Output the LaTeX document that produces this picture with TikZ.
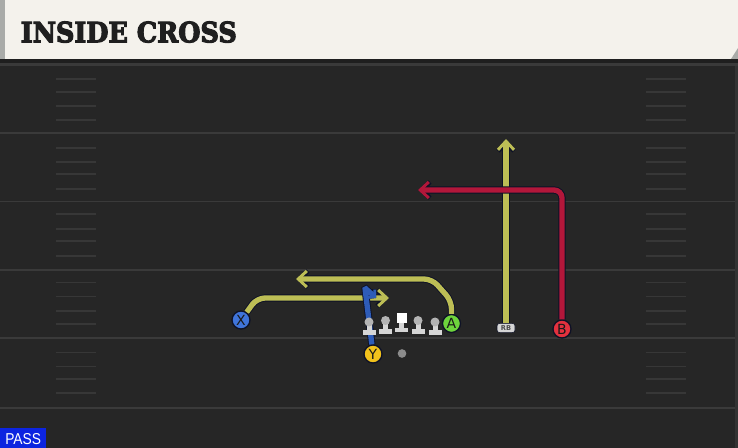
\documentclass[tikz,border=0pt]{standalone}
\usepackage{fontspec}
\setmainfont{DejaVu Sans}
\newfontfamily\titlefont[BoldFeatures={FakeBold=4}]{DejaVu Serif}
\newfontfamily\passfont{Liberation Sans}
\usetikzlibrary{arrows.meta}
\definecolor{fieldbg}{HTML}{262626}
\definecolor{fieldline}{HTML}{3A3A3A}
\definecolor{hashcol}{HTML}{373737}
\definecolor{cream}{HTML}{F4F2EC}
\definecolor{stripgray}{HTML}{A9ABA8}
\definecolor{routey}{HTML}{BDBE55}
\definecolor{router}{HTML}{B3173A}
\definecolor{routeb}{HTML}{2E5CB8}
\definecolor{outl}{HTML}{0E1226}
\definecolor{px}{HTML}{3F74DA}
\definecolor{py}{HTML}{F2C21C}
\definecolor{pa}{HTML}{6ED43C}
\definecolor{pb}{HTML}{E3313E}
\definecolor{passblue}{HTML}{0C24E0}
\definecolor{linemanbody}{HTML}{D6D6D6}
\definecolor{linemanhead}{HTML}{B4B4B4}
\tikzset{
  yardline/.style={draw=fieldline, line width=1.4pt},
  hashmark/.style={draw=hashcol, line width=1.1pt},
  player/.style={circle, draw=outl, line width=1pt, minimum size=13.5pt, inner sep=0pt,
    font=\fontsize{10.5}{10.5}\selectfont, text=black!90},
  rbbox/.style={rectangle, rounded corners=2pt, fill=linemanbody, draw=outl, line width=0.4pt,
    minimum width=13.5pt, minimum height=7pt, inner sep=0pt,
    font=\fontsize{5}{5}\selectfont\bfseries, text=black!70},
  ballnode/.style={circle, fill=black!45, minimum size=6.5pt, inner sep=0pt},
  routeout/.style={draw=outl, line width=5.4pt, rounded corners=6pt,
    -{Straight Barb[length=6.5pt,width=12pt,line width=3.4pt]}},
  routein/.style={line width=4pt, rounded corners=6pt,
    -{Straight Barb[length=6.5pt,width=12pt,line width=2.2pt]}},
}
\newcommand\routepath[2]{\draw[routeout] #2;\draw[routein,draw=#1] #2;}
\begin{document}
\begin{tikzpicture}[x=0.75pt,y=-0.75pt]
\useasboundingbox (0,0) rectangle (738,448);
% field
\fill[fieldbg] (0,0) rectangle (738,448);
\fill[black!88] (0,59) rectangle (738,63);
\fill[fieldline] (0,63) rectangle (738,66);
\fill[black!80] (735,66) rectangle (738,448);
% title bar
\fill[cream] (0,0) rectangle (738,59);
\fill[stripgray] (0,0) rectangle (5,59);
\fill[stripgray] (731,59) -- (738,48) -- (738,59) -- cycle;
\node[anchor=base west, inner sep=0pt, text=black!88] (title) at (20.5,42.3)
  {\resizebox{162pt}{15.6pt}{\titlefont\bfseries INSIDE CROSS}};
% yard lines
\foreach \yy in {133,201.5,270,338.3,408}
  \draw[yardline] (0,\yy) -- (735,\yy);
% hash marks
\foreach \yy in {79,92,106,120,148,162,174,189,214,229,241,256,282.7,296.7,311,324,352.7,366.7,379,393}{
  \draw[hashmark] (56,\yy) -- (96,\yy);
  \draw[hashmark] (646,\yy) -- (686,\yy);
}
% players
\node[player, fill=px] (X) at (241,320) {X};
\node[player, fill=py] (Y) at (373,354) {Y};
\node[player, fill=pa] (A) at (451.5,323.5) {A};
\node[player, fill=pb] (B) at (562,329) {B};
\node[rbbox] (RB) at (506,328) {RB};
\node[ballnode] (ball) at (402,353.5) {};
% route ends
\coordinate (xt) at (389,298);
\coordinate (at) at (296,279);
\coordinate (rbt) at (506,139);
\coordinate (bt) at (418,190);
\coordinate (yt) at (376,298);
% routes
\routepath{routey}{(X) -- (257,298) -- (xt)}
\routepath{routey}{(A) -- (451.5,301) -- (432,279) -- (at)}
\routepath{routey}{(RB) -- (rbt)}
\routepath{router}{(B) -- (562,190) -- (bt)}
\draw[draw=outl, line width=5.4pt, rounded corners=1pt, -{Straight Barb[length=3.5pt,width=8pt,line width=3pt]}] (Y) -- (365,288) -- (yt);
\draw[draw=routeb, line width=4pt, rounded corners=1pt, -{Straight Barb[length=3.5pt,width=8pt,line width=2pt]}] (Y) -- (365,288) -- (yt);
% linemen
\foreach \lx/\hy/\by in {369/322/333.5, 385.5/320.5/332.5, 418/320.5/332.5, 435/322/333.5}{
  \fill[linemanbody] (\lx-6.5,\by-3.5) rectangle (\lx+6.5,\by+1.5);
  \fill[linemanbody] (\lx-2.5,\hy) rectangle (\lx+2.5,\by-3.5);
  \fill[linemanhead] (\lx,\hy) circle[radius=4.5];
}
\fill[linemanbody] (395,328) rectangle (408,332.5);
\fill[linemanbody] (399,322) rectangle (404,328);
\fill[white] (396.5,313.5) rectangle (406.5,323);
% pass tag
\fill[passblue] (0,428) rectangle (46,448);
\node[anchor=base west, inner sep=0pt, text=white] (pass) at (5,444.3)
  {\resizebox{26.8pt}{8.25pt}{\passfont PASS}};
\end{tikzpicture}
\end{document}
